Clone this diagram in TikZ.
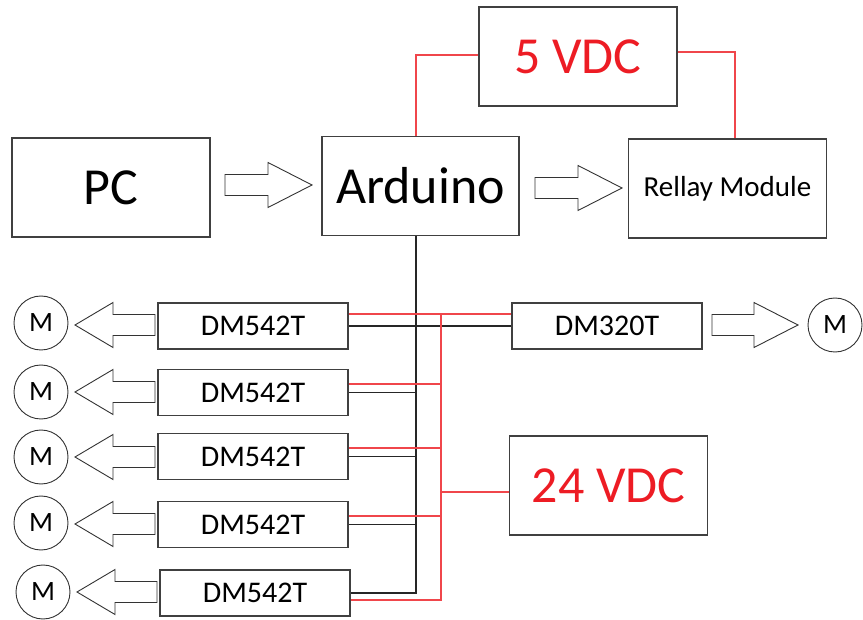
\documentclass[tikz,border=0pt]{standalone}
\usepackage{fontspec}
\setmainfont{Carlito}
\usetikzlibrary{calc}

\definecolor{wirered}{RGB}{240,70,75}
\definecolor{txtred}{RGB}{237,28,36}

% block arrow: tail x, head base x, tip x, y
\newcommand{\hollowarrow}[4]{%
  \draw[fatarrow] (#1,#4-10.5) -- (#2,#4-10.5) -- (#2,#4-22.5) -- (#3,#4)
    -- (#2,#4+22.5) -- (#2,#4+10.5) -- (#1,#4+10.5) -- cycle;}

\begin{document}
\begin{tikzpicture}[x=1pt, y=-1pt,
  box/.style={draw=black!75, line width=1.5pt, inner sep=0pt, align=center},
  big/.style={box, minimum width=198pt, minimum height=99pt, font=\fontsize{52}{60}\selectfont},
  drv/.style={box, minimum width=190pt, minimum height=46pt, font=\fontsize{30}{36}\selectfont},
  motor/.style={circle, draw=black!80, line width=0.9pt, minimum size=54pt, inner sep=0pt, font=\fontsize{28}{32}\selectfont},
  sig/.style={line width=1.5pt, black!85},
  pwr/.style={line width=1.2pt, wirered},
  fatarrow/.style={draw=black!80, line width=0.9pt, fill=white}]
  \useasboundingbox (0,0) rectangle (863,620);
  % top row
  \node[big, text=txtred] (vdc5) at (578,56.5) {5 VDC};
  \node[big] (pc) at (111,187.5) {PC};
  \node[big, minimum width=197pt] (ard) at (420.5,186) {Arduino};
  \node[big, font=\fontsize{29}{34}\selectfont] (relay) at (727.5,188.5) {Rellay Module};
  % drivers and supply
  \node[drv] (dm1) at (253,326) {DM542T};
  \node[drv] (dm2) at (253,392.5) {DM542T};
  \node[drv] (dm3) at (253,456.5) {DM542T};
  \node[drv] (dm4) at (253,524.5) {DM542T};
  \node[drv] (dm5) at (255,593) {DM542T};
  \node[drv] (dm320) at (607,326) {DM320T};
  \node[big, text=txtred] (vdc24) at (608.5,485.5) {24 VDC};
  % motors
  \node[motor] (m1) at (41,323) {M};
  \node[motor] (m2) at (41,392) {M};
  \node[motor] (m3) at (41,457) {M};
  \node[motor] (m4) at (41,523) {M};
  \node[motor] (m5) at (43,592) {M};
  \node[motor] (m6) at (835,325) {M};
  % block arrows
  \hollowarrow{225}{268}{312}{185}
  \hollowarrow{535}{578}{622}{188}
  \hollowarrow{155}{113}{75}{325}
  \hollowarrow{155}{113}{75}{392}
  \hollowarrow{155}{113}{75}{457}
  \hollowarrow{155}{113}{75}{524}
  \hollowarrow{157}{115}{77}{592}
  \hollowarrow{712}{754}{798}{325}
  % 5 V supply
  \draw[pwr] ([yshift=1.5pt]vdc5.west) -| ([xshift=-4.5pt]ard.north);
  \draw[pwr] ([yshift=4.5pt]vdc5.east) -| ([xshift=7.5pt]relay.north);
  % signal bus
  \coordinate (sbus) at ([xshift=-4.5pt]ard.south);
  \draw[sig] (sbus) |- (dm5.east);
  \draw[sig] (dm1.east) -- (dm320.west);
  \foreach \d in {dm2,dm3,dm4}
    \draw[sig] (\d.east) -- (\d.east -| sbus);
  % 24 V bus
  \coordinate (rbus) at (441,314);
  \draw[pwr] ([yshift=12pt]dm1.east) -- ([yshift=12pt]dm320.west);
  \draw[pwr] (rbus) |- ([yshift=-7pt]dm5.east);
  \foreach \d in {dm2,dm3,dm4}
    \draw[pwr] ([yshift=8.5pt]\d.east) coordinate (r) -- (r -| rbus);
  \draw[pwr] ([yshift=-6.5pt]vdc24.west) coordinate (r) -- (r -| rbus);
\end{tikzpicture}
\end{document}
